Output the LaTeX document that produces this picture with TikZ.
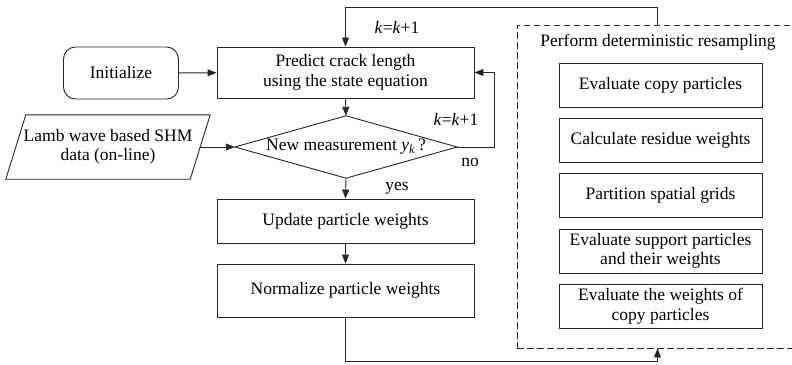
\documentclass[tikz,border=0pt]{standalone}
\usepackage{fontspec}
\setmainfont{Liberation Serif}
\usetikzlibrary{arrows.meta}

\tikzset{
  flow/.style={line width=0.9pt, draw=black!85},
  arr/.style={flow, -{Triangle[length=9pt,width=7pt]}},
  procbox/.style={draw=black!85, line width=0.9pt, rectangle, inner sep=0pt,
    align=center, font=\fontsize{17.5}{19.5}\selectfont},
  startbox/.style={procbox, rounded corners=12pt},
  plainbox/.style={rectangle, inner sep=0pt, align=center,
    font=\fontsize{17.5}{19.5}\selectfont},
  lbl/.style={inner sep=0pt, font=\fontsize{17.5}{19.5}\selectfont},
  frame/.style={draw=black!85, line width=0.9pt, dash pattern=on 6.5pt off 3.5pt,
    rectangle, inner sep=0pt},
}

\newcommand{\kinc}{\textit{k}=\textit{k}+1}

\begin{document}
\begin{tikzpicture}[x=1pt, y=-1pt]
  \useasboundingbox (0,0) rectangle (792,364);
  \clip (0,0) rectangle (792,364);

  % main chain
  \node[startbox, minimum width=115pt, minimum height=52pt] (init) at (121,73) {Initialize};
  \node[procbox, minimum width=257pt, minimum height=51pt] (pred) at (345.5,72.5)
    {Predict crack length\\using the state equation};
  \node[plainbox, minimum width=222pt, minimum height=62pt] (dec) at (346,147)
    {New measurement \textit{y}\textsubscript{\textit{k}}\,?};
  \draw[flow] (dec.north) -- (dec.east) -- (dec.south) -- (dec.west) -- cycle;
  \node[procbox, minimum width=257pt, minimum height=44pt] (upd) at (345.5,221)
    {Update particle weights};
  \node[procbox, minimum width=257pt, minimum height=53pt] (norm) at (345.5,290.5)
    {Normalize particle weights};

  % measurement input (parallelogram)
  \node[plainbox, minimum width=184pt, minimum height=64pt] (lamb) at (108,147)
    {Lamb wave based SHM\\data (on-line)};
  \draw[flow] ([xshift=10pt]lamb.north west) -- ([xshift=10pt]lamb.north east)
    -- ([xshift=-10pt]lamb.south east) -- ([xshift=-10pt]lamb.south west) -- cycle;

  % resampling block
  \node[frame, minimum width=300pt, minimum height=323pt] (res) at (667,186.5) {};
  \node[lbl] (restitle) at (658,42) {Perform deterministic resampling};
  \node[procbox, minimum width=203pt, minimum height=44pt] (r1) at (660.5,85)
    {Evaluate copy particles};
  \node[procbox, minimum width=203pt, minimum height=44pt] (r2) at (660.5,140)
    {Calculate residue weights};
  \node[procbox, minimum width=203pt, minimum height=44pt] (r3) at (660.5,195)
    {Partition spatial grids};
  \node[procbox, minimum width=203pt, minimum height=44pt] (r4) at (660.5,251)
    {Evaluate support particles\\and their weights};
  \node[procbox, minimum width=203pt, minimum height=44pt] (r5) at (660.5,306)
    {Evaluate the weights of\\copy particles};

  % routing coordinates
  \coordinate (loopx) at (657.5,0);
  \coordinate (topy) at (0,7);
  \coordinate (boty) at (0,361.5);
  \coordinate (rightx) at (494.5,0);

  % connectors
  \draw[arr] (init) -- (pred);
  \draw[arr] (pred.south) -- (dec.north);
  \draw[arr] (lamb.east) -- (dec.west);
  \draw[arr] (dec.south) -- (upd.north);
  \draw[arr] (upd) -- (norm);
  \draw[arr] (dec.east) -- (dec.east -| rightx) |- (pred.east);
  \draw[arr] (norm.south) -- (norm.south |- boty) -| (res.south -| loopx);
  \draw[arr] (res.north -| loopx) -- (loopx |- topy) -| (pred.north);

  % labels
  \node[lbl] (ktop) at (397,27) {\kinc};
  \node[lbl] (kright) at (456,119) {\kinc};
  \node[lbl] (no) at (470,162) {no};
  \node[lbl] (yes) at (397,188) {yes};
\end{tikzpicture}
\end{document}
